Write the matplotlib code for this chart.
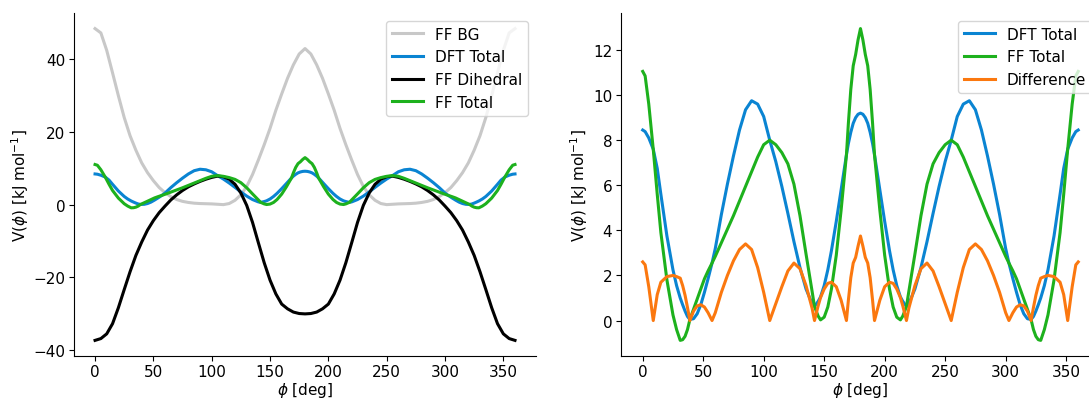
import numpy as np
import matplotlib
matplotlib.use("Agg")
from matplotlib import pyplot as plt

# torsion scan, angles in degrees
phi_tot = [0, 2, 5, 8.7, 12, 15, 20, 25, 28, 31, 33, 35, 37, 39, 42, 45, 48, 51, 54, 57.3,
           60, 65, 70, 75, 80, 85, 90, 95, 100, 105, 110, 115, 120, 125, 130, 135, 140, 142, 145, 147,
           150, 153, 156, 160, 164, 168.4, 170, 172, 174, 176, 178, 180,
           182, 184, 186, 188, 190, 191.6, 196, 200, 204, 207, 210, 213, 215, 218, 220,
           225, 230, 235, 240, 245, 250, 255, 260, 265, 270, 275, 280, 285, 290, 295, 300,
           302.7, 306, 309, 312, 315, 318, 321, 323, 325, 327, 329, 332, 335, 340, 345, 348,
           351.3, 355, 358, 360]

dft_total = [8.45, 8.38, 8.1, 7.6, 6.75, 5.6, 3.75, 2.25, 1.55, 1.0, 0.7, 0.42, 0.18, 0.05, 0.08, 0.3,
             0.7, 1.25, 1.85, 2.55, 3.2, 4.7, 6.05, 7.3, 8.45, 9.35, 9.75, 9.6, 9.05, 8.0, 7.05, 5.95,
             4.75, 3.5, 2.35, 1.4, 0.75, 0.62, 0.85, 1.05, 1.55, 2.25, 3.1, 4.4, 5.8, 7.35, 7.85, 8.35,
             8.75, 9.0, 9.15, 9.2,
             9.15, 9.0, 8.75, 8.35, 7.85, 7.35, 5.8, 4.4, 3.1, 2.25, 1.55, 1.05, 0.85, 0.62, 0.75, 1.4,
             2.35, 3.5, 4.75, 5.95, 7.05, 8.0, 9.05, 9.6, 9.75, 9.35, 8.45, 7.3, 6.05, 4.7, 3.2, 2.55,
             1.85, 1.25, 0.7, 0.3, 0.08, 0.05, 0.18, 0.42, 0.7, 1.0, 1.55, 2.25, 3.75, 5.6, 6.75, 7.6,
             8.1, 8.38, 8.45]

ff_total = [11.05, 10.85, 9.6, 7.6, 5.6, 3.9, 1.8, 0.25, -0.4, -0.88, -0.85, -0.7, -0.4, 0.05, 0.5, 0.95,
            1.4, 1.85, 2.2, 2.55, 2.85, 3.45, 4.05, 4.65, 5.3, 5.95, 6.6, 7.25, 7.8, 8.0, 7.8, 7.45,
            6.95, 6.05, 4.65, 2.95, 1.3, 0.62, 0.2, 0.03, 0.15, 0.6, 1.4, 2.9, 4.9, 7.35, 8.75, 10.25,
            11.3, 11.8, 12.45, 12.95,
            12.45, 11.8, 11.3, 10.25, 8.75, 7.35, 4.9, 2.9, 1.4, 0.6, 0.15, 0.03, 0.2, 0.62, 1.3, 2.95,
            4.65, 6.05, 6.95, 7.45, 7.8, 8.0, 7.8, 7.25, 6.6, 5.95, 5.3, 4.65, 4.05, 3.45, 2.85, 2.55,
            2.2, 1.85, 1.4, 0.95, 0.5, 0.05, -0.4, -0.7, -0.85, -0.88, -0.4, 0.25, 1.8, 3.9, 5.6, 7.6,
            9.6, 10.85, 11.05]

phi5 = np.arange(0, 361, 5)

ff_bg = [48.5, 47.3, 42.5, 36.3, 30.0, 24.0, 19.0, 15.0, 11.5, 8.8, 6.6, 4.7, 3.3, 2.2, 1.4, 0.9,
         0.6, 0.4, 0.3, 0.25, 0.2, 0.1, 0.0, 0.3, 1.2, 2.7, 5.0, 8.3, 12.3, 16.5, 21.0, 26.0,
         30.5, 34.8, 38.5, 41.5, 43.0,
         41.5, 38.5, 34.8, 30.5, 26.0, 21.0, 16.5, 12.3, 8.3, 5.0, 2.7, 1.2, 0.3, 0.0, 0.1, 0.2,
         0.25, 0.3, 0.4, 0.6, 0.9, 1.4, 2.2, 3.3, 4.7, 6.6, 8.8, 11.5, 15.0, 19.0, 24.0, 30.0,
         36.3, 42.5, 47.3, 48.5]

ff_dihedral = [-37.4, -36.9, -35.6, -32.8, -28.4, -23.4, -18.5, -14.0, -10.3, -7.0, -4.4, -2.2, -0.4,
               1.3, 2.7, 3.9, 4.9, 5.7, 6.4, 7.0, 7.5, 7.85, 7.7, 7.0, 5.6, 3.2, -0.2, -4.9, -10.5,
               -16.0, -20.8, -24.6, -27.4, -28.7, -29.6, -30.0, -30.1,
               -30.0, -29.6, -28.7, -27.4, -24.6, -20.8, -16.0, -10.5, -4.9, -0.2, 3.2, 5.6, 7.0,
               7.7, 7.85, 7.5, 7.0, 6.4, 5.7, 4.9, 3.9, 2.7, 1.3, -0.4, -2.2, -4.4, -7.0, -10.3,
               -14.0, -18.5, -23.4, -28.4, -32.8, -35.6, -36.9, -37.4]

difference = np.abs(np.array(dft_total) - np.array(ff_total))

c_bg = '#c8c8c8'
c_dft = '#0a84d2'
c_ff = '#1db11d'
c_diff = '#fb780f'
lw = 2.2

plt.rcParams['font.size'] = 11
plt.rcParams['xtick.major.pad'] = 2.3
plt.rcParams['ytick.major.pad'] = 2.8

fig = plt.figure(figsize=(10.89, 4.02), dpi=100)
ax1 = fig.add_axes([0.068, 0.112, 0.4242, 0.8532])
ax2 = fig.add_axes([0.5702, 0.112, 0.4399, 0.8532])

ax1.plot(phi5, ff_bg, color=c_bg, lw=lw, label='FF BG')
ax1.plot(phi_tot, dft_total, color=c_dft, lw=lw, label='DFT Total')
ax1.plot(phi5, ff_dihedral, color='black', lw=lw, label='FF Dihedral')
ax1.plot(phi_tot, ff_total, color=c_ff, lw=lw, label='FF Total')

ax2.plot(phi_tot, dft_total, color=c_dft, lw=lw, label='DFT Total')
ax2.plot(phi_tot, ff_total, color=c_ff, lw=lw, label='FF Total')
ax2.plot(phi_tot, difference, color=c_diff, lw=lw, label='Difference')

for ax in (ax1, ax2):
    ax.spines['top'].set_visible(False)
    ax.spines['right'].set_visible(False)
    ax.set_xticks([0, 50, 100, 150, 200, 250, 300, 350])
    ax.set_xlabel(r'$\phi$ [deg]', labelpad=1)
    ax.set_ylabel(r'V($\phi$) [kJ mol$^{-1}$]', labelpad=2)
    ax.legend(loc='upper right')

ax2.set_yticks([0, 2, 4, 6, 8, 10, 12])

fig.savefig('out.png', dpi=100)
